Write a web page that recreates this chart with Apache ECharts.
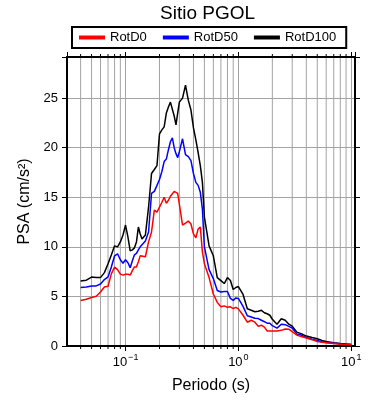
<!DOCTYPE html>
<html>
<head>
<meta charset="utf-8">
<script src="https://cdn.jsdelivr.net/npm/echarts@6/dist/echarts.min.js"></script>
<style>
html, body { margin: 0; padding: 0; background: #fff; }
#chart { width: 390px; height: 400px; }
</style>
</head>
<body>
<div id="chart"></div>
<script>
// periodos (s) y PSA (cm/s2)
const periods = [0.04, 0.045, 0.05, 0.055, 0.06, 0.065, 0.07, 0.075, 0.08, 0.085,
  0.09, 0.095, 0.1, 0.105, 0.11, 0.115, 0.12, 0.125, 0.13, 0.135,
  0.14, 0.15, 0.16, 0.17, 0.18, 0.19, 0.2, 0.21, 0.22, 0.23,
  0.24, 0.25, 0.26, 0.27, 0.28, 0.29, 0.3, 0.32, 0.34, 0.36,
  0.38, 0.4, 0.42, 0.44, 0.46, 0.48, 0.5, 0.55, 0.6, 0.65,
  0.7, 0.75, 0.8, 0.85, 0.9, 0.95, 1.0, 1.1, 1.2, 1.3,
  1.4, 1.5, 1.6, 1.7, 1.8, 1.9, 2.0, 2.2, 2.4, 2.6,
  2.8, 3.0, 3.3, 3.6, 4.0, 4.5, 5, 5.5, 6, 7,
  8, 9, 10]

const rotD0 = [4.6, 4.72, 4.89, 5.02, 5.45, 5.95, 6.03, 7.3, 7.95, 7.7,
  7.25, 7.15, 7.24, 7.24, 7.15, 7.6, 7.98, 7.98, 8.5, 9.1,
  9.3, 9.0, 10.5, 11.5, 13.7, 13.5, 14.0, 14.5, 15.0, 14.4,
  14.7, 15.1, 15.3, 15.6, 15.5, 15.4, 15.2, 12.2, 12.4, 12.6,
  12.3, 11.3, 10.9, 11.8, 12.0, 9.5, 8.3, 6.9, 5.25, 4.4,
  3.95, 4.05, 3.9, 3.95, 3.78, 3.9, 3.75, 3.1, 2.4, 2.6,
  2.4, 2.0, 2.1, 1.9, 1.52, 1.52, 1.52, 1.52, 1.58, 1.72,
  1.7, 1.45, 1.1, 0.95, 0.8, 0.64, 0.45, 0.38, 0.32, 0.25,
  0.18, 0.15, 0.13]

const rotD50 = [5.9, 5.96, 6.06, 6.06, 6.25, 6.7, 6.97, 8.0, 9.1, 9.3,
  8.7, 8.35, 8.7, 8.4, 7.9, 8.6, 9.2, 9.35, 9.7, 10.0,
  10.15, 10.6, 11.5, 15.4, 15.6, 16.2, 16.8, 17.6, 18.6, 18.85,
  19.8, 20.6, 21.0, 20.0, 19.4, 19.0, 19.6, 20.9, 19.3, 19.1,
  18.7, 17.4, 16.5, 16.2, 15.5, 13.8, 10.0, 7.7, 6.8, 5.6,
  5.45, 5.5, 5.5, 4.8, 4.6, 4.85, 4.8, 4.0, 3.05, 2.93,
  2.8, 2.77, 2.6, 2.45, 2.3, 2.3, 2.05, 1.8, 2.2, 2.15,
  1.98, 1.8, 1.2, 1.1, 0.87, 0.68, 0.55, 0.43, 0.36, 0.27,
  0.22, 0.18, 0.14]

const rotD100 = [6.55, 6.64, 6.95, 6.9, 6.9, 7.4, 8.3, 9.2, 10.1, 10.0,
  10.5, 11.2, 12.2, 11.0, 9.6, 9.7, 9.9, 10.5, 12.0, 11.3,
  10.8, 11.2, 14.0, 17.4, 17.8, 18.2, 21.4, 21.8, 22.1, 23.5,
  24.1, 24.6, 24.4, 23.2, 22.3, 23.5, 24.6, 25.0, 26.3, 24.8,
  23.8, 22.0, 20.8, 19.5, 18.2, 16.5, 13.0, 10.1, 9.1, 6.9,
  6.6, 6.3, 6.9, 6.6, 5.7, 5.9, 6.0, 5.2, 3.75, 3.6,
  3.45, 3.5, 3.6, 3.35, 3.25, 3.1, 2.7, 2.2, 2.75, 2.6,
  2.2, 2.0, 1.4, 1.25, 1.0, 0.85, 0.73, 0.55, 0.45, 0.34,
  0.26, 0.2, 0.15]

// lineas menores de la malla logaritmica
const minorPeriods = [0.04, 0.05, 0.06, 0.07, 0.08, 0.09,
  0.2, 0.3, 0.4, 0.5, 0.6, 0.7, 0.8, 0.9,
  2, 3, 4, 5, 6, 7, 8, 9]

const FONT = '"Liberation Sans", Arial, sans-serif'
const X_MIN = 0.0303
const X_MAX = 10.8
const Y_MAX = 29.15
const GRID_COLOR = '#a3a3a3'

function decadeLabel(v) {
  const l = Math.log10(v)
  const e = Math.round(l)
  if (Math.abs(l - e) > 1e-6) return ''
  return '{b|10}{sup|' + (e < 0 ? '\u2212' + (-e) : e) + '}'
}

function pairs(vals) {
  return periods.map((p, i) => [p, vals[i]])
}

const xCommon = {
  type: 'log',
  logBase: 10,
  min: X_MIN,
  max: X_MAX,
  axisLine: { show: true, onZero: false, lineStyle: { color: '#000', width: 2 } },
  axisTick: { show: true, inside: false, length: 5, lineStyle: { color: '#000', width: 1 } },
}

const yCommon = {
  type: 'value',
  min: 0,
  max: Y_MAX,
  interval: 5,
  axisLine: { show: true, lineStyle: { color: '#000', width: 2 } },
  axisTick: { show: true, inside: false, length: 5, lineStyle: { color: '#000', width: 1 } },
}

const option = {
  animation: false,
  backgroundColor: '#fff',
  textStyle: { fontFamily: FONT },
  title: {
    text: 'Sitio PGOL',
    left: 160,
    top: 4,
    padding: 0,
    textStyle: { fontSize: 19, fontWeight: 'normal', color: '#000', fontFamily: FONT },
  },
  legend: {
    data: ['RotD0', 'RotD50', 'RotD100'],
    left: 72,
    top: 27,
    orient: 'horizontal',
    icon: 'rect',
    itemWidth: 26,
    itemHeight: 4,
    itemGap: 16,
    padding: [4, 10, 4, 7],
    borderColor: '#000',
    borderWidth: 2,
    borderRadius: 0,
    textStyle: { fontSize: 13, color: '#000', fontFamily: FONT },
  },
  grid: { left: 67, right: 35, top: 57, bottom: 54, containLabel: false },
  xAxis: [
    Object.assign({}, xCommon, {
      position: 'bottom',
      name: 'Periodo (s)',
      nameLocation: 'middle',
      nameGap: 32,
      nameTextStyle: { fontSize: 16, color: '#000', fontFamily: FONT },
      axisLabel: {
        margin: 7,
        color: '#000',
        fontSize: 13,
        fontFamily: FONT,
        formatter: decadeLabel,
        showMinLabel: false,
        showMaxLabel: false,
        rich: {
          b: { fontSize: 13, color: '#000', fontFamily: FONT, verticalAlign: 'bottom' },
          sup: { fontSize: 9, color: '#000', fontFamily: FONT, verticalAlign: 'bottom', padding: [0, 0, 7, 1] },
        },
      },
      splitLine: { show: true, lineStyle: { color: GRID_COLOR, width: 1 } },
    }),
    Object.assign({}, xCommon, {
      position: 'top',
      axisLabel: { show: false },
      splitLine: { show: false },
    }),
  ],
  yAxis: [
    Object.assign({}, yCommon, {
      position: 'left',
      name: 'PSA (cm/s\u00b2)',
      nameLocation: 'middle',
      nameGap: 28,
      nameRotate: 90,
      nameTextStyle: { fontSize: 16, color: '#000', fontFamily: FONT },
      axisLabel: {
        margin: 9,
        color: '#000',
        fontSize: 13,
        fontFamily: FONT,
        formatter: v => (Math.abs(v % 5) < 1e-9 ? String(v) : ''),
      },
      splitLine: { show: true, lineStyle: { color: GRID_COLOR, width: 1 } },
    }),
    Object.assign({}, yCommon, {
      position: 'right',
      axisLabel: { show: false },
      splitLine: { show: false },
    }),
  ],
  series: [
    {
      // malla menor y marcas menores del eje logaritmico
      type: 'custom',
      name: 'minor',
      silent: true,
      clip: false,
      z: 0,
      xAxisIndex: 0,
      yAxisIndex: 0,
      data: minorPeriods.map(p => [p, 0]),
      encode: { x: 0, y: 1 },
      renderItem: (params, api) => {
        const px = api.coord([api.value(0), 0])[0]
        const cs = params.coordSys
        const top = cs.y
        const bottom = cs.y + cs.height
        return {
          type: 'group',
          children: [
            { type: 'line', shape: { x1: px, y1: top, x2: px, y2: bottom }, style: { stroke: GRID_COLOR, lineWidth: 1 } },
            { type: 'line', shape: { x1: px, y1: bottom, x2: px, y2: bottom + 3 }, style: { stroke: '#000', lineWidth: 1 } },
            { type: 'line', shape: { x1: px, y1: top, x2: px, y2: top - 3 }, style: { stroke: '#000', lineWidth: 1 } },
          ],
        }
      },
    },
    {
      name: 'RotD100',
      type: 'line',
      data: pairs(rotD100),
      showSymbol: false,
      color: '#000',
      lineStyle: { color: '#000', width: 1.5 },
      z: 3,
    },
    {
      name: 'RotD50',
      type: 'line',
      data: pairs(rotD50),
      showSymbol: false,
      color: '#0000ff',
      lineStyle: { color: '#0000ff', width: 1.5 },
      z: 4,
    },
    {
      name: 'RotD0',
      type: 'line',
      data: pairs(rotD0),
      showSymbol: false,
      color: '#ff0000',
      lineStyle: { color: '#ff0000', width: 1.5 },
      z: 5,
    },
  ],
}

const chart = echarts.init(document.getElementById('chart'), null, { renderer: 'canvas' })
chart.setOption(option)
</script>
</body>
</html>
